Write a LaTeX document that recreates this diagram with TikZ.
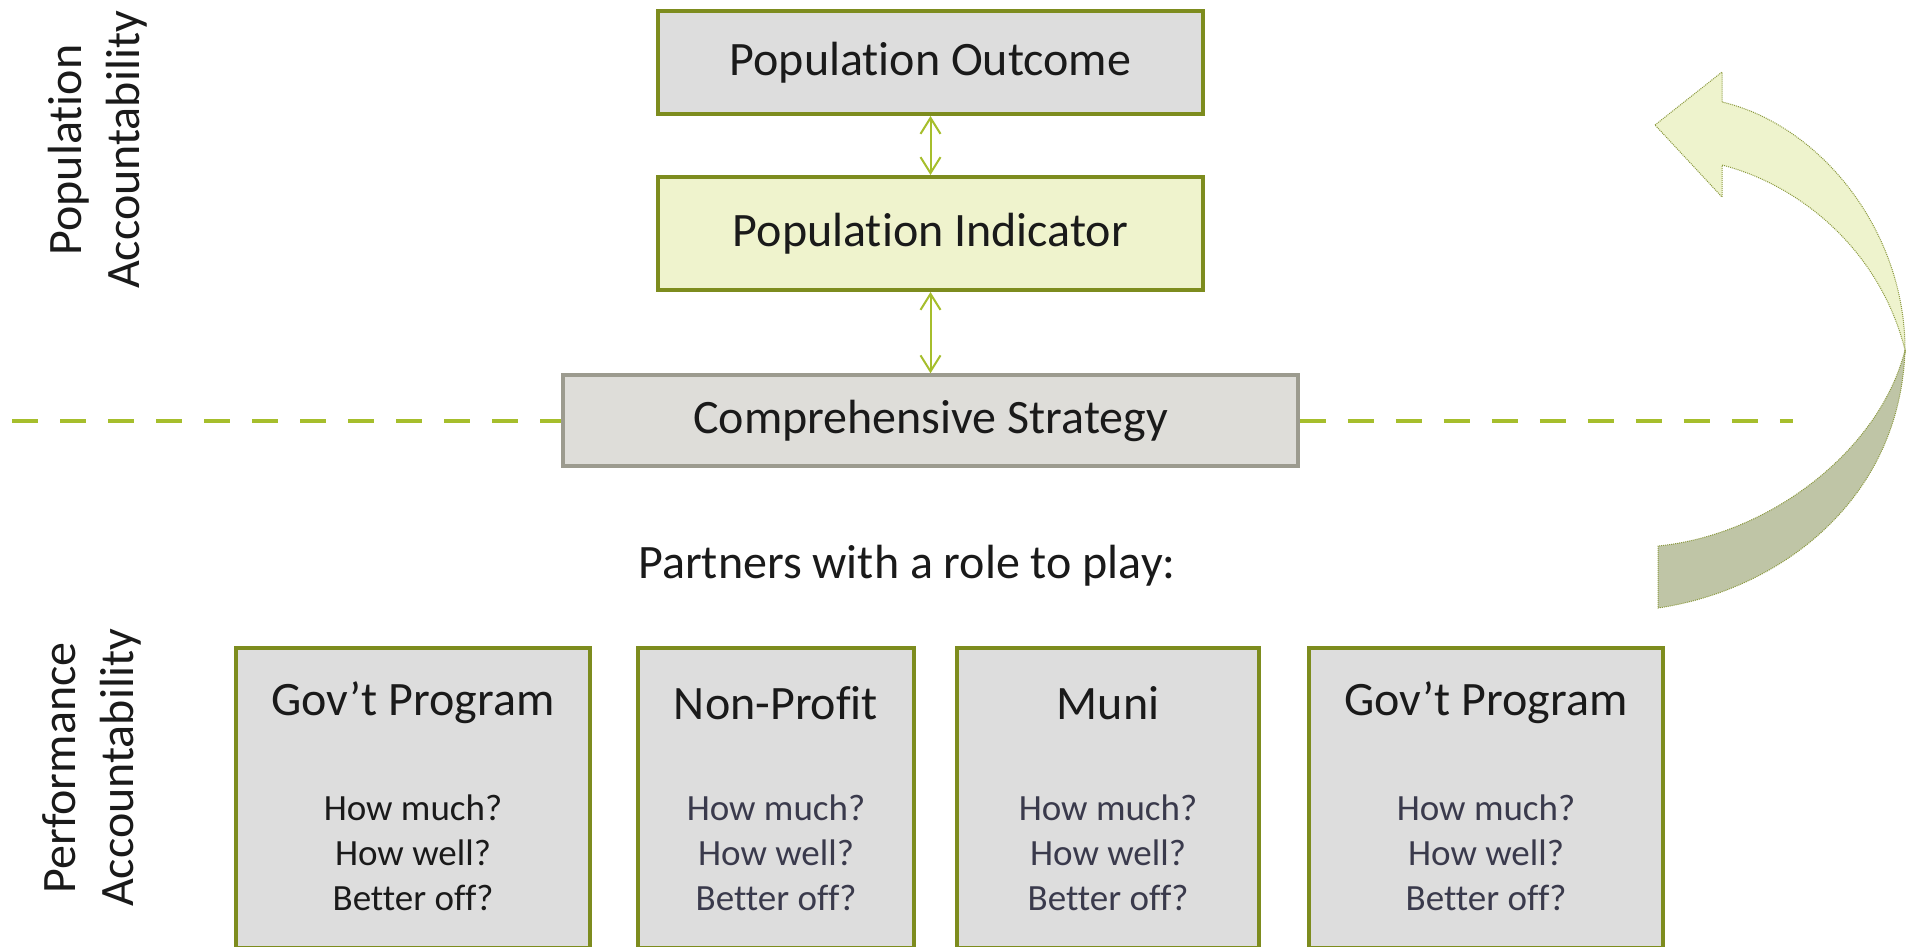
\documentclass[tikz,border=0pt]{standalone}
\usepackage{fontspec}
\setmainfont{Carlito}[Ligatures={NoCommon}]
\usetikzlibrary{arrows.meta}
\definecolor{boxolive}{HTML}{7D8C1E}
\definecolor{boxgrey}{HTML}{DDDDDD}
\definecolor{indfill}{HTML}{EFF3CD}
\definecolor{csfill}{HTML}{DEDDD9}
\definecolor{csborder}{HTML}{9C9B8F}
\definecolor{lime}{HTML}{A6BE2C}
\definecolor{arrlight}{HTML}{EEF3CD}
\definecolor{arrdark}{HTML}{BFC5A6}
\definecolor{arredge}{HTML}{8C9A40}
\definecolor{txt}{HTML}{1A1A1A}
\definecolor{qtxt}{HTML}{3A3A4C}
\tikzset{
  bigfont/.style={font=\fontsize{48}{56}\selectfont, text=txt},
  topbox/.style={draw=boxolive, line width=4pt, minimum width=545pt, inner sep=0pt},
  partbox/.style={draw=boxolive, fill=boxgrey, line width=3.5pt, inner sep=0pt, minimum height=300pt},
  qstyle/.style={font=\fontsize{37}{45}\selectfont, align=center},
  dbl/.style={draw=lime, line width=2pt, {Straight Barb[length=16pt,width=20pt]}-{Straight Barb[length=16pt,width=20pt]}},
  divider/.style={draw=lime, line width=4pt, dash pattern=on 26pt off 22pt},
  sidelabel/.style={font=\fontsize{48}{58}\selectfont, text=txt, align=center, rotate=90},
  bendarrow/.style={draw=arredge, line width=1pt, densely dotted}
}
\begin{document}
\begin{tikzpicture}[x=1pt,y=-1pt]
\clip (0,0) rectangle (1910,946);
\fill[white] (0,0) rectangle (1910,946);

% top boxes
\node[topbox, fill=boxgrey, minimum height=103pt, bigfont] (po) at (930.5,62.5) {Population Outcome};
\node[topbox, fill=indfill, minimum height=113pt, bigfont] (pi) at (930.5,233.5) {Population Indicator};
\node[draw=csborder, fill=csfill, line width=3.5pt, minimum width=735pt, minimum height=91pt, inner sep=0pt, bigfont] (cs) at (930.5,420.5) {Comprehensive Strategy};

\draw[dbl] (po.south) -- (pi.north);
\draw[dbl] (pi.south) -- (cs.north);

% divider
\coordinate (dl) at (12,420.5);
\coordinate (dr) at (1793,420.5);
\draw[divider] (dl) -- (cs.west);
\draw[divider] (cs.east) -- (dr);

\node[bigfont] (partners) at (907,566) {Partners with a role to play:};

% side labels
\node[sidelabel] (popacc) at (98,150) {Population\\Accountability};
\node[sidelabel] (perfacc) at (92,768) {Performance\\Accountability};

% partner boxes
\node[partbox, minimum width=354pt] (b1) at (413,798) {};
\node[partbox, minimum width=276pt] (b2) at (776,798) {};
\node[partbox, minimum width=302pt] (b3) at (1108,798) {};
\node[partbox, minimum width=354pt] (b4) at (1486,798) {};

\node[bigfont] (t1) at (413,703) {Gov’t Program};
\node[bigfont] (t2) at (776,703) {Non-Profit};
\node[bigfont] (t3) at (1108,703) {Muni};
\node[bigfont] (t4) at (1486,703) {Gov’t Program};

\node[qstyle, text=txt] (q1) at (413,853) {How much?\\How well?\\Better off?};
\node[qstyle, text=qtxt] (q2) at (776,853) {How much?\\How well?\\Better off?};
\node[qstyle, text=qtxt] (q3) at (1108,853) {How much?\\How well?\\Better off?};
\node[qstyle, text=qtxt] (q4) at (1486,853) {How much?\\How well?\\Better off?};

% curved arrow
\filldraw[bendarrow, fill=arrlight]
  (1655,125) -- (1722,72) -- (1722,102)
  .. controls (1820,125) and (1905,230) .. (1905,350)
  .. controls (1880,250) and (1800,185) .. (1722,165)
  -- (1722,197) -- cycle;
\filldraw[bendarrow, fill=arrdark]
  (1905,350) .. controls (1900,500) and (1780,590) .. (1658,608)
  -- (1658,546)
  .. controls (1770,535) and (1880,450) .. cycle;
\end{tikzpicture}
\end{document}
